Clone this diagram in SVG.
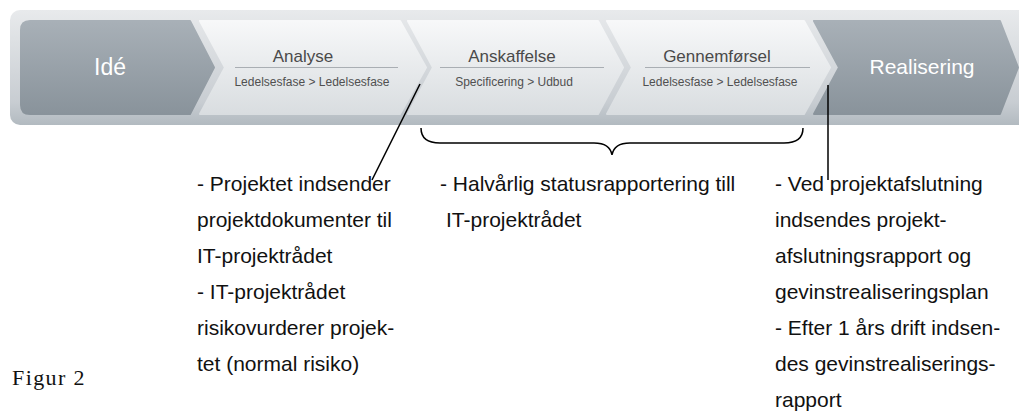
<svg xmlns="http://www.w3.org/2000/svg" width="1019" height="417" viewBox="0 0 1019 417">
<defs>
  <linearGradient id="gBar" x1="0" y1="0" x2="0" y2="1">
    <stop offset="0" stop-color="#e8eaec"/>
    <stop offset="0.8" stop-color="#c8cdd2"/>
    <stop offset="1" stop-color="#b2bac0"/>
  </linearGradient>
  <linearGradient id="gDark" x1="0" y1="0" x2="0" y2="1">
    <stop offset="0" stop-color="#a8b0b7"/>
    <stop offset="1" stop-color="#89939b"/>
  </linearGradient>
  <linearGradient id="gLight" x1="0" y1="0" x2="0" y2="1">
    <stop offset="0" stop-color="#f7f8f9"/>
    <stop offset="1" stop-color="#d9dde0"/>
  </linearGradient>
</defs>
<style>
  .dark{fill:url(#gDark);stroke:url(#gDark);stroke-width:2;stroke-linejoin:round}
  .light{fill:url(#gLight);stroke:url(#gLight);stroke-width:2;stroke-linejoin:round}
  .title{font-family:"Liberation Sans",Arial,sans-serif;font-size:17px;fill:#4a4a4a;text-anchor:middle}
  .sub{font-family:"Liberation Sans",Arial,sans-serif;font-size:12px;fill:#505050;text-anchor:middle}
  .big{font-family:"Liberation Sans",Arial,sans-serif;font-size:21px;fill:#ffffff;text-anchor:middle}
  .sep{stroke:#a9aeb3;stroke-width:1}
  .note{font-family:"Liberation Sans",Arial,sans-serif;font-size:21px;fill:#111111}
  .conn{stroke:#000000;stroke-width:1.5;fill:none}
  .cap{font-family:"Liberation Serif","Times New Roman",serif;font-size:22px;fill:#111111;letter-spacing:1.4px}
</style>
<rect id="bar" x="10" y="10" width="1030" height="115" rx="10" fill="url(#gBar)"/>

<g id="node-ide">
  <path class="dark" d="M30,21 H190 L214,67.5 L190,114 H30 Q21,114 21,105 V30 Q21,21 30,21 Z"/>
  <text class="big" x="110" y="75" style="font-size:23px">Idé</text>
</g>
<g id="node-analyse">
  <path class="light" d="M200,21 H400 L426,67.5 L400,114 H200 L225,67.5 Z"/>
  <text class="title" x="303" y="62">Analyse</text>
  <line class="sep" x1="235" y1="67.5" x2="398" y2="67.5"/>
  <text class="sub" x="312" y="86">Ledelsesfase &gt; Ledelsesfase</text>
</g>
<g id="node-anskaffelse">
  <path class="light" d="M408,21 H598 L623,67.5 L598,114 H408 L433,67.5 Z"/>
  <text class="title" x="512" y="62">Anskaffelse</text>
  <line class="sep" x1="440" y1="67.5" x2="604" y2="67.5"/>
  <text class="sub" x="514" y="86">Specificering &gt; Udbud</text>
</g>
<g id="node-gennemfoersel">
  <path class="light" d="M607,21 H804 L830,67.5 L804,114 H607 L632,67.5 Z"/>
  <text class="title" x="717" y="62">Gennemførsel</text>
  <line class="sep" x1="645" y1="67.5" x2="810" y2="67.5"/>
  <text class="sub" x="720" y="86">Ledelsesfase &gt; Ledelsesfase</text>
</g>
<g id="node-realisering">
  <path class="dark" d="M814,21 H1000 L1018,67.5 L1000,114 H814 L839,67.5 Z"/>
  <text class="big" x="922" y="74">Realisering</text>
</g>

<g id="connectors">
  <line class="conn" x1="420" y1="84" x2="372" y2="180"/>
  <path class="conn" d="M421,128 Q421,143 440,143 H594 Q610,143 612,155 Q614,143 630,143 H784 Q803,143 803,128"/>
  <line class="conn" x1="828" y1="85" x2="828" y2="180"/>
</g>

<g id="note-left">
  <text class="note" x="197" y="191">- Projektet indsender</text>
  <text class="note" x="197" y="227">projektdokumenter til</text>
  <text class="note" x="197" y="263">IT-projektrådet</text>
  <text class="note" x="197" y="299">- IT-projektrådet</text>
  <text class="note" x="197" y="335">risikovurderer projek-</text>
  <text class="note" x="197" y="371">tet (normal risiko)</text>
</g>
<g id="note-middle">
  <text class="note" x="440" y="191">- Halvårlig statusrapportering till</text>
  <text class="note" x="446" y="227">IT-projektrådet</text>
</g>
<g id="note-right">
  <text class="note" x="775" y="191">- Ved projektafslutning</text>
  <text class="note" x="775" y="227">indsendes projekt-</text>
  <text class="note" x="775" y="263">afslutningsrapport og</text>
  <text class="note" x="775" y="299">gevinstrealiseringsplan</text>
  <text class="note" x="775" y="335">- Efter 1 års drift indsen-</text>
  <text class="note" x="775" y="371">des gevinstrealiserings-</text>
  <text class="note" x="775" y="407">rapport</text>
</g>
<text class="cap" x="12" y="385">Figur 2</text>
</svg>
